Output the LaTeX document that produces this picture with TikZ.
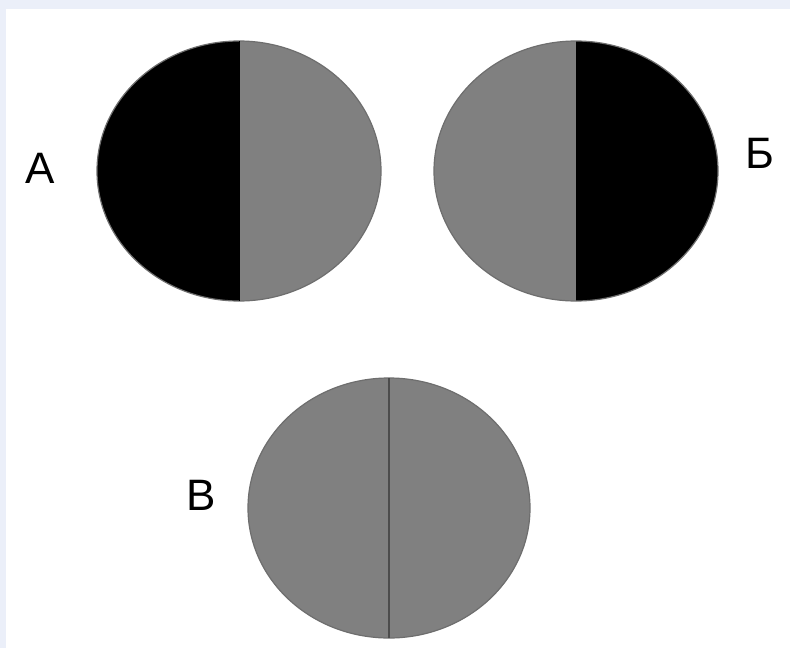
\documentclass[tikz,border=0pt]{standalone}
\usepackage{fontspec}
\setmainfont{Liberation Sans}
\definecolor{frame}{HTML}{EBEFF9}
\definecolor{half}{HTML}{808080}
\definecolor{rim}{HTML}{6E6E6E}
\begin{document}
\begin{tikzpicture}[x=1pt,y=-1pt,
  lbl/.style={font=\fontsize{44}{44}\selectfont, inner sep=0pt},
  rimline/.style={draw=rim, line width=1.2pt}]
\useasboundingbox (0,0) rectangle (790,648);
\fill[frame] (0,0) rectangle (790,648);
\fill[white] (6,9) rectangle (790,648);
% A
\coordinate (ca) at (239,171);
\fill[black] (ca) ++(0,-130) arc[start angle=90,end angle=270,x radius=142,y radius=-130] -- cycle;
\fill[half] (ca) ++(0,-130) arc[start angle=90,end angle=-90,x radius=142,y radius=-130] -- cycle;
\draw[rimline] (ca) ellipse[x radius=142,y radius=130];
\draw[black, line width=1pt] (ca) ++(0,-130) -- ++(0,260);
% B
\coordinate (cb) at (576,171);
\fill[half] (cb) ++(0,-130) arc[start angle=90,end angle=270,x radius=142,y radius=-130] -- cycle;
\fill[black] (cb) ++(0,-130) arc[start angle=90,end angle=-90,x radius=142,y radius=-130] -- cycle;
\draw[rimline] (cb) ellipse[x radius=142,y radius=130];
% C
\coordinate (cc) at (389,508);
\fill[half] (cc) ellipse[x radius=141,y radius=130];
\draw[rimline] (cc) ellipse[x radius=141,y radius=130];
\draw[black!70, line width=1.5pt] (cc) ++(0,-130) -- ++(0,260);
% labels
\node[lbl] (la) at (40,168) {А};
\node[lbl] (lb) at (760,153) {Б};
\node[lbl] (lc) at (201,495) {В};
\end{tikzpicture}
\end{document}
